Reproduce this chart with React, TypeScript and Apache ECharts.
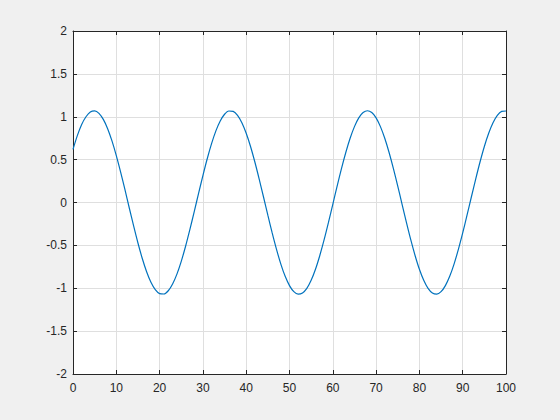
import React, { useEffect, useRef } from 'react'
import * as echarts from 'echarts'

// y values at x = 0, 1, ..., 100
const xValues: number[] = Array.from({ length: 101 }, (_, i) => i)
const yValues: number[] = [
  0.62, 0.78, 0.91, 1.0, 1.056, 1.069, 1.04, 0.969, 0.861, 0.718,
  0.547, 0.355, 0.149, -0.064, -0.273, -0.472, -0.653, -0.807, -0.93, -1.016,
  -1.062, -1.067, -1.029, -0.95, -0.835, -0.686, -0.51, -0.314, -0.106, 0.106,
  0.314, 0.51, 0.686, 0.835, 0.95, 1.029, 1.067, 1.062, 1.016, 0.93,
  0.807, 0.653, 0.472, 0.273, 0.064, -0.148, -0.355, -0.547, -0.718, -0.861,
  -0.969, -1.04, -1.069, -1.056, -1.002, -0.908, -0.779, -0.618, -0.434, -0.232,
  -0.021, 0.191, 0.395, 0.583, 0.749, 0.885, 0.987, 1.049, 1.07, 1.049,
  0.987, 0.885, 0.749, 0.583, 0.395, 0.191, -0.021, -0.232, -0.434, -0.618,
  -0.779, -0.908, -1.002, -1.056, -1.069, -1.04, -0.969, -0.861, -0.718, -0.547,
  -0.355, -0.148, 0.064, 0.273, 0.472, 0.653, 0.807, 0.93, 1.016, 1.062,
  1.067,
]

const axisColor = '#262626'
const gridColor = '#dfdfdf'
const font = 'Arial, "Liberation Sans", Helvetica, sans-serif'

const App: React.FC = () => {
  const chartRef = useRef<HTMLDivElement>(null)

  useEffect(() => {
    if (!chartRef.current) return
    document.body.style.margin = '0'
    const chart = echarts.init(chartRef.current, undefined, { renderer: 'svg' })

    const baseAxis = {
      type: 'value' as const,
      axisLine: { show: true, onZero: false, lineStyle: { color: axisColor, width: 1 } },
      axisTick: { show: true, inside: true, length: 4, lineStyle: { color: axisColor } },
    }

    const option: echarts.EChartsOption = {
      animation: false,
      backgroundColor: '#f0f0f0',
      grid: {
        left: 73,
        top: 31,
        right: 54,
        bottom: 46,
        show: true,
        backgroundColor: '#ffffff',
        borderWidth: 0,
      },
      xAxis: [
        {
          ...baseAxis,
          position: 'bottom',
          min: 0,
          max: 100,
          interval: 10,
          axisLabel: { color: axisColor, fontSize: 12, fontFamily: font, margin: 8 },
          splitLine: { show: true, lineStyle: { color: gridColor, width: 1 } },
        },
        {
          ...baseAxis,
          position: 'top',
          min: 0,
          max: 100,
          interval: 10,
          axisLabel: { show: false },
          splitLine: { show: false },
        },
      ],
      yAxis: [
        {
          ...baseAxis,
          position: 'left',
          min: -2,
          max: 2,
          interval: 0.5,
          axisLabel: { color: axisColor, fontSize: 12, fontFamily: font, margin: 6 },
          splitLine: { show: true, lineStyle: { color: gridColor, width: 1 } },
        },
        {
          ...baseAxis,
          position: 'right',
          min: -2,
          max: 2,
          interval: 0.5,
          axisLabel: { show: false },
          splitLine: { show: false },
        },
      ],
      series: [
        {
          type: 'line',
          data: xValues.map((x, i) => [x, yValues[i]]),
          showSymbol: false,
          smooth: 0.3,
          lineStyle: { color: '#0072BD', width: 1.2 },
          xAxisIndex: 0,
          yAxisIndex: 0,
        },
      ],
    }

    chart.setOption(option)

    return () => {
      chart.dispose()
    }
  }, [])

  return (
    <div
      ref={chartRef}
      style={{ position: 'absolute', left: 0, top: 0, width: '560px', height: '420px' }}
    />
  )
}

export default App
